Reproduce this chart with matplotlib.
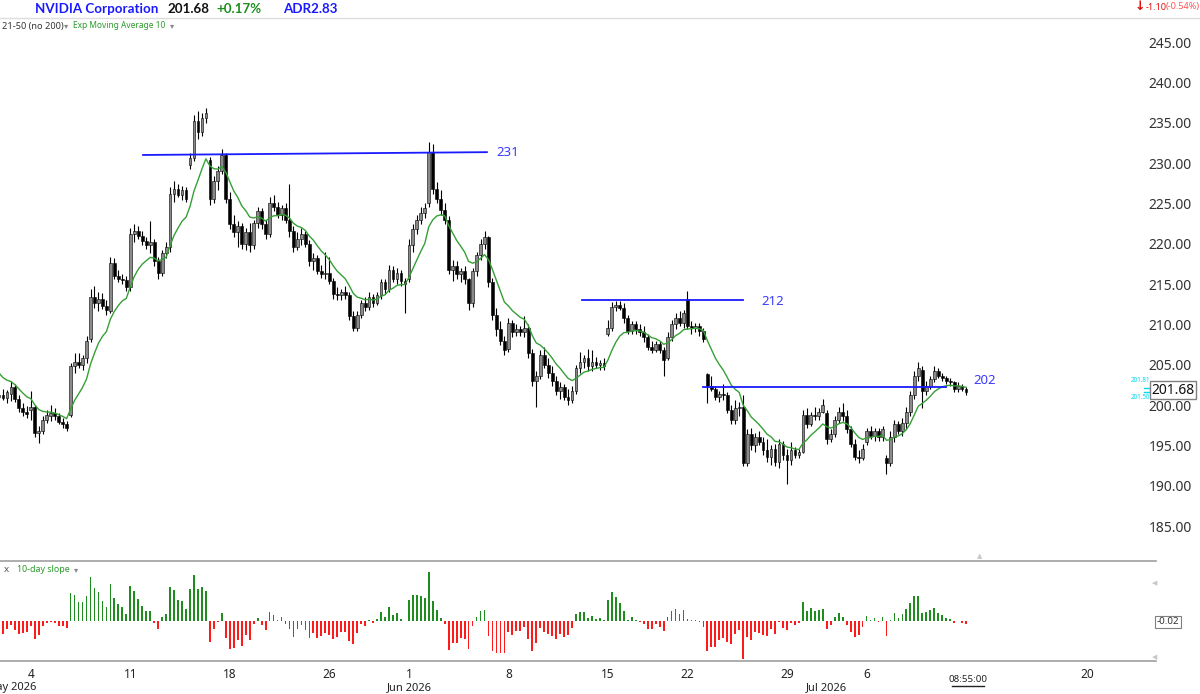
import numpy as np
import matplotlib
matplotlib.use("Agg")
import matplotlib.pyplot as plt
from matplotlib.lines import Line2D

plt.rcParams['font.family'] = ['Noto Sans', 'DejaVu Sans']

# 5 bars per trading day, Apr 30 .. Jul 13 2026 (one row per day)
opens = [
    202.0, 201.6, 201.0, 201.3, 200.9,
    201.4, 202.2, 200.8, 199.6, 199.2,
    199.4, 199.8, 196.6, 196.8, 198.2,
    198.6, 199.0, 198.6, 197.9, 197.6,
    198.8, 204.8, 205.4, 205.0, 205.8,
    208.2, 213.4, 212.6, 213.2, 212.3,
    211.6, 217.6, 216.0, 215.6, 215.5,
    214.6, 221.2, 221.6, 220.9, 220.3,
    219.8, 220.2, 217.8, 216.4, 218.8,
    219.6, 226.2, 226.8, 226.0, 226.6,
    229.8, 230.6, 235.2, 233.8, 235.6,
    230.4, 225.6, 227.8, 229.0, 231.0,
    225.6, 222.4, 221.4, 222.2, 220.0,
    221.4, 219.8, 222.6, 224.0, 222.4,
    221.2, 225.0, 224.6, 223.6, 224.4,
    223.0, 221.6, 219.6, 220.6, 221.2,
    220.0, 217.8, 218.2, 216.6, 216.2,
    216.4, 215.4, 213.8, 213.6, 214.0,
    213.6, 211.0, 209.6, 211.2, 212.6,
    212.2, 213.4, 212.6, 213.6, 215.2,
    214.4, 216.8, 215.6, 216.4, 215.4,
    215.6, 219.8, 221.8, 223.0, 223.8,
    225.0, 231.4, 226.8, 225.6, 224.2,
    223.0, 216.8, 217.2, 216.2, 216.6,
    215.6, 212.6, 216.6, 218.6, 220.0,
    220.8, 215.2, 211.2, 209.4, 208.0,
    207.0, 210.2, 209.0, 209.4, 209.0,
    209.6, 206.4, 203.0, 203.6, 206.2,
    205.0, 204.0, 203.0, 201.8, 202.2,
    201.0, 200.6, 201.8, 204.6, 205.4,
    205.8, 204.8, 205.4, 205.0, 205.2,
    208.8, 209.6, 212.2, 212.4, 212.0,
    210.8, 209.2, 210.0, 209.4, 209.0,
    208.4, 207.2, 206.8, 207.6, 206.8,
    205.8, 208.4, 210.0, 210.8, 210.2,
    213.2, 209.8, 209.6, 209.8, 209.2,
    203.8, 202.4, 202.0, 201.0, 201.4,
    201.2, 199.4, 198.2, 199.6, 199.8,
    192.8, 196.4, 195.0, 196.0, 195.4,
    194.4, 193.6, 194.6, 193.0, 195.2,
    193.8, 193.2, 194.4, 193.8, 194.2,
    198.8, 197.6, 198.8, 198.6, 199.2,
    199.0, 195.8, 196.4, 198.2, 199.2,
    198.6, 197.0, 195.2, 193.6, 193.4,
    195.4, 196.8, 196.2, 196.8, 196.0,
    193.4, 192.8, 196.0, 197.6, 196.8,
    197.8, 199.2, 201.2, 203.6, 204.4,
    201.8, 202.4, 203.2, 204.2, 203.6,
    203.4, 203.0, 202.8, 202.0, 202.4,
    202.0,
]
highs = [
    202.6, 202.2, 201.8, 202.0, 201.9,
    203.0, 202.6, 201.2, 200.3, 199.9,
    201.8, 200.0, 197.4, 198.6, 199.4,
    200.0, 199.6, 199.0, 198.4, 198.0,
    205.2, 206.4, 206.5, 206.2, 208.6,
    214.4, 214.8, 214.0, 213.9, 213.0,
    218.4, 218.2, 216.8, 216.2, 216.0,
    222.0, 222.4, 222.2, 221.6, 220.8,
    222.8, 220.6, 218.4, 219.2, 220.2,
    227.0, 227.8, 227.4, 227.2, 227.0,
    231.2, 236.0, 236.4, 236.2, 236.8,
    230.8, 228.4, 229.6, 231.8, 231.2,
    226.4, 223.6, 222.8, 222.6, 222.0,
    222.6, 223.0, 224.6, 224.4, 223.0,
    225.8, 226.0, 225.2, 224.8, 225.0,
    227.4, 222.2, 221.4, 222.0, 221.6,
    220.4, 218.8, 218.6, 217.4, 219.0,
    218.4, 215.8, 214.6, 214.4, 214.8,
    214.0, 211.6, 211.6, 213.0, 213.4,
    214.0, 213.8, 214.0, 215.6, 215.6,
    217.4, 217.2, 217.0, 216.8, 215.8,
    220.6, 222.4, 223.6, 224.6, 225.0,
    232.6, 232.4, 227.6, 226.6, 225.0,
    223.4, 218.0, 217.8, 217.0, 217.2,
    215.8, 217.0, 219.0, 220.6, 221.6,
    221.0, 215.8, 212.0, 210.4, 208.6,
    210.8, 210.6, 210.0, 209.8, 211.0,
    210.0, 207.0, 204.2, 206.8, 207.2,
    205.8, 204.8, 203.6, 202.8, 202.6,
    202.0, 202.4, 205.0, 206.6, 206.2,
    207.0, 206.8, 206.0, 205.6, 205.8,
    210.6, 212.8, 212.9, 212.9, 212.6,
    211.2, 210.4, 210.4, 210.0, 209.8,
    208.8, 208.0, 208.0, 208.0, 207.2,
    209.0, 210.6, 211.4, 211.6, 211.8,
    214.2, 210.4, 210.2, 210.2, 209.6,
    204.0, 203.6, 202.4, 201.8, 202.6,
    201.6, 200.0, 200.6, 200.4, 201.2,
    197.0, 197.2, 196.6, 196.8, 196.0,
    195.8, 195.0, 195.2, 195.8, 195.6,
    194.6, 195.4, 194.8, 194.6, 199.4,
    199.6, 199.2, 199.8, 199.6, 200.8,
    199.4, 197.0, 198.6, 199.8, 200.2,
    199.4, 197.4, 195.8, 194.4, 195.2,
    197.2, 197.4, 197.2, 197.2, 197.4,
    193.8, 196.8, 198.2, 198.0, 198.4,
    199.8, 201.8, 204.2, 205.4, 204.8,
    203.0, 203.6, 204.8, 204.6, 204.0,
    203.6, 203.4, 203.0, 202.8, 202.6,
    202.2,
]
lows = [
    201.2, 200.8, 200.3, 200.6, 200.2,
    200.5, 200.4, 199.2, 198.6, 198.4,
    198.2, 196.0, 195.3, 196.4, 197.8,
    198.0, 198.2, 197.6, 197.2, 196.8,
    198.5, 204.0, 204.6, 204.4, 205.2,
    207.8, 212.0, 211.6, 211.9, 211.2,
    211.4, 215.6, 215.2, 215.0, 214.2,
    214.2, 220.2, 220.6, 219.8, 219.4,
    218.8, 217.2, 215.6, 216.0, 218.2,
    219.0, 225.2, 225.8, 225.4, 225.2,
    229.2, 230.2, 233.0, 233.4, 235.0,
    224.8, 225.0, 226.6, 228.6, 225.0,
    221.8, 220.8, 219.6, 219.4, 219.2,
    219.0, 219.4, 222.0, 221.8, 220.6,
    220.8, 224.0, 223.2, 223.0, 222.6,
    220.8, 219.0, 219.2, 219.8, 219.6,
    217.2, 216.8, 216.2, 215.8, 215.6,
    215.0, 213.2, 213.0, 213.0, 213.2,
    210.6, 209.2, 209.2, 210.8, 211.6,
    211.8, 212.2, 212.4, 213.2, 213.8,
    214.0, 215.2, 215.0, 214.8, 211.4,
    215.2, 219.0, 221.2, 222.4, 223.2,
    224.6, 226.2, 225.0, 223.6, 222.4,
    216.2, 215.4, 215.6, 215.2, 215.0,
    211.8, 212.2, 216.0, 218.0, 219.4,
    214.6, 210.6, 208.6, 207.4, 206.2,
    206.6, 208.4, 208.6, 208.6, 208.4,
    205.8, 202.4, 199.8, 203.2, 204.6,
    203.4, 202.4, 201.2, 200.8, 200.6,
    200.0, 200.2, 201.4, 204.0, 204.6,
    204.2, 204.2, 204.6, 204.4, 204.4,
    208.6, 209.2, 211.6, 211.8, 210.2,
    208.8, 208.8, 208.8, 208.6, 207.8,
    206.8, 206.4, 206.6, 206.4, 203.6,
    205.6, 208.0, 209.4, 209.8, 209.6,
    209.4, 208.8, 209.0, 208.6, 207.8,
    200.2, 201.8, 200.6, 200.4, 200.6,
    199.0, 197.6, 197.6, 198.6, 192.4,
    192.4, 194.4, 194.2, 195.0, 193.8,
    193.0, 192.6, 192.4, 192.2, 193.2,
    190.2, 192.6, 193.4, 193.4, 194.0,
    197.2, 197.4, 198.2, 198.2, 199.0,
    195.2, 195.4, 196.0, 197.8, 198.0,
    196.6, 194.8, 193.2, 192.8, 193.2,
    195.0, 195.8, 195.6, 195.6, 195.6,
    191.4, 192.4, 195.4, 196.4, 196.2,
    197.0, 198.6, 200.8, 203.0, 199.6,
    201.2, 202.0, 202.8, 203.4, 203.0,
    202.6, 202.4, 201.6, 201.6, 201.8,
    201.2,
]
closes = [
    201.6, 201.0, 201.3, 200.9, 201.6,
    202.2, 200.8, 199.6, 199.2, 198.9,
    199.8, 196.6, 196.8, 198.2, 198.8,
    199.0, 198.6, 197.9, 197.6, 197.1,
    204.8, 205.4, 205.0, 205.8, 207.9,
    213.4, 212.6, 213.2, 212.3, 211.8,
    217.6, 216.0, 215.6, 215.5, 214.6,
    221.2, 221.6, 220.9, 220.3, 219.8,
    220.2, 217.8, 216.4, 218.8, 219.6,
    226.2, 226.8, 226.0, 226.6, 225.5,
    230.6, 235.2, 233.8, 235.6, 236.2,
    225.6, 227.8, 229.0, 231.0, 225.6,
    222.4, 221.4, 222.2, 220.0, 221.4,
    219.8, 222.6, 224.0, 222.4, 221.2,
    225.0, 224.6, 223.6, 224.4, 223.0,
    221.6, 219.6, 220.6, 221.2, 220.0,
    217.8, 218.2, 216.6, 216.2, 216.4,
    215.4, 213.8, 213.6, 214.0, 213.6,
    211.0, 209.6, 211.2, 212.6, 212.2,
    213.4, 212.6, 213.6, 215.2, 214.4,
    216.8, 215.6, 216.4, 215.4, 215.0,
    219.8, 221.8, 223.0, 223.8, 224.4,
    231.4, 226.8, 225.6, 224.2, 223.0,
    216.8, 217.2, 216.2, 216.6, 215.6,
    212.6, 216.6, 218.6, 220.0, 220.8,
    215.2, 211.2, 209.4, 208.0, 206.8,
    210.2, 209.0, 209.4, 209.0, 209.6,
    206.4, 203.0, 203.6, 206.2, 205.0,
    204.0, 203.0, 201.8, 202.2, 201.0,
    200.6, 201.8, 204.6, 205.4, 205.8,
    204.8, 205.4, 205.0, 205.2, 204.8,
    209.6, 212.2, 212.4, 212.0, 210.8,
    209.2, 210.0, 209.4, 209.0, 208.4,
    207.2, 206.8, 207.6, 206.8, 205.6,
    208.4, 210.0, 210.8, 210.2, 211.4,
    209.8, 209.6, 209.8, 209.2, 208.2,
    202.4, 202.0, 201.0, 201.4, 201.2,
    199.4, 198.2, 199.6, 199.8, 192.8,
    196.4, 195.0, 196.0, 195.4, 194.4,
    193.6, 194.6, 193.0, 195.2, 193.8,
    193.2, 194.4, 193.8, 194.2, 198.8,
    197.6, 198.8, 198.6, 199.2, 200.0,
    195.8, 196.4, 198.2, 199.2, 198.6,
    197.0, 195.2, 193.6, 193.4, 194.6,
    196.8, 196.2, 196.8, 196.0, 197.0,
    192.8, 196.0, 197.6, 196.8, 197.8,
    199.2, 201.2, 203.6, 204.6, 201.8,
    202.4, 203.2, 204.2, 203.6, 203.4,
    203.0, 202.8, 202.0, 202.4, 202.0,
    201.68,
]
ema_start = 206.2   # EMA value carried in from before the window
ema_span = 10

# x axis: trading-day index (Apr 30 = 0)
tick_days = [2, 7, 12, 17, 21, 26, 31, 35, 40, 44, 55.1]
tick_labels = ['4', '11', '18', '26', '1', '8', '15', '22', '29', '6', '20']
month_days = [1, 21, 42]
month_labels = ['May 2026', 'Jun 2026', 'Jul 2026']

# drawn levels: (x0, x1, y0, y1, label, label_x, label_y)
levels = [
    (7.64, 24.92, 231.0, 231.35, '231', 25.98, 231.3),
    (29.70, 37.79, 213.0, 213.0, '212', 39.30, 212.9),
    (35.78, 47.99, 202.3, 202.3, '202', 49.95, 203.1),
]

o = np.array(opens); h = np.array(highs); l = np.array(lows); c = np.array(closes)
n = len(c)
pos = np.arange(n) / 5.0

alpha = 2.0 / (ema_span + 1)
ema = np.empty(n)
prev = ema_start
for i in range(n):
    prev = prev + alpha * (c[i] - prev)
    ema[i] = prev
slope = np.diff(np.concatenate([[ema_start], ema]))

W, H = 1200, 694
fig = plt.figure(figsize=(12, 6.94), dpi=100)
fig.patch.set_facecolor('white')

XL = (0.452, 57.74)

# price panel
ax = fig.add_axes([0, 1 - 560 / H, 0.95, 525 / H])
ax.set_xlim(*XL)
ax.set_ylim(180.8, 245.87)
ax.vlines(pos, l, h, color='black', lw=0.8, zorder=2)
up = c >= o
body = np.where(np.abs(c - o) < 0.08, 0.08, c - o)
ax.bar(pos[up], body[up], bottom=o[up], width=0.14, color='#8a8a8a',
       edgecolor='black', linewidth=0.4, zorder=3)
ax.bar(pos[~up], body[~up], bottom=o[~up], width=0.14, color='black',
       edgecolor='black', linewidth=0.4, zorder=3)
ax.plot(pos, ema, color='#35a035', lw=1.0, zorder=4)
for x0, x1, y0, y1, lab, lx, ly in levels:
    ax.plot([x0, x1], [y0, y1], color='#1a1aff', lw=1.3, zorder=5)
    ax.text(lx, ly, lab, color='#3a3aff', fontsize=9.5, ha='center', va='center')

ax.yaxis.tick_right()
ax.set_yticks(np.arange(185, 246, 5))
ax.set_yticklabels([f'{v:.2f}' for v in np.arange(185, 246, 5)])
ax.tick_params(axis='y', length=0, pad=6, labelsize=10, labelcolor='#333333')
ax.set_xticks([])
for s in ax.spines.values():
    s.set_visible(False)

# slope panel
ax2 = fig.add_axes([0, 1 - 661 / H, 0.95, 99 / H])
ax2.set_xlim(*XL)
ax2.set_ylim(-1.67, 2.47)
ax2.bar(pos, slope, width=0.09, color=np.where(slope >= 0, '#1f8c1f', '#ff1a1a'))
ax2.set_yticks([])
ax2.set_xticks(tick_days)
ax2.set_xticklabels(tick_labels)
ax2.tick_params(axis='x', length=0, pad=5, labelsize=8.5, labelcolor='#222222')
for s in ax2.spines.values():
    s.set_visible(False)
for d, lab in zip(month_days, month_labels):
    ax2.text(d, -0.27, lab, transform=ax2.get_xaxis_transform(), ha='center',
             va='center', fontsize=8, color='#222222', clip_on=False)

# separators
for yy in (561, 661):
    fig.add_artist(Line2D([0, 1156 / W], [1 - yy / H] * 2, color='#a0a0a0', lw=1.2))
fig.add_artist(Line2D([0, 1], [1 - 18 / H] * 2, color='#dddddd', lw=1))

# header
def ftext(x, y, s, **kw):
    fig.text(x / W, 1 - y / H, s, va='center', **kw)

hdr = dict(family=['Lato', 'DejaVu Sans'], fontsize=9.6, weight='bold')
ftext(35, 9, 'NVIDIA Corporation', color='#1a1aff', **hdr)
ftext(168, 9, '201.68', color='#111111', **hdr)
ftext(216, 9, '+0.17%', color='#1f8c1f', **hdr)
ftext(283, 9, 'ADR2.83', color='#1a1aff', **hdr)
ftext(1135, 7, '↓', color='#e01010', fontsize=9, weight='bold', family='DejaVu Sans')
ftext(1146, 7, '-1.10', color='#e01010', fontsize=6.5)
ftext(1166, 7, '(-0.54%)', color='#ff5050', fontsize=6.5)
ftext(2, 26, '21-50 (no 200)', color='#333333', fontsize=6.6)
ftext(64, 26, '▾', color='#888888', fontsize=6, family='DejaVu Sans')
ftext(73, 26, 'Exp Moving Average 10', color='#2a9a2a', fontsize=6.0)
ftext(170, 26, '▾', color='#888888', fontsize=6, family='DejaVu Sans')
ftext(4, 570, 'x', color='#555555', fontsize=7)
ftext(17, 570, '10-day slope', color='#2a9a2a', fontsize=6.4)
ftext(74, 570, '▾', color='#888888', fontsize=6, family='DejaVu Sans')

# right side price tags
ftext(1173, 390, '201.68', color='#111111', fontsize=10, ha='center',
      bbox=dict(boxstyle='square,pad=0.12', fc='white', ec='#808080', lw=1))
ftext(1140, 381, '201.81', color='#00d8f0', fontsize=4.5, ha='center')
ftext(1140, 398, '201.50', color='#00d8f0', fontsize=4.5, ha='center')
for yy in (388, 392):
    fig.add_artist(Line2D([1144 / W, 1149 / W], [1 - yy / H] * 2, color='#00d8f0', lw=1))
ftext(1168, 622, '-0.02', color='#333333', fontsize=7, ha='center',
      bbox=dict(boxstyle='square,pad=0.15', fc='white', ec='#808080', lw=0.8))
ftext(968, 679, '08:55:00', color='#222222', fontsize=7, ha='center')
fig.add_artist(Line2D([952 / W, 984 / W], [1 - 686 / H] * 2, color='#222222', lw=1))
ftext(980, 556, '▲', color='#c8c8c8', fontsize=5, ha='center', family='DejaVu Sans')
ftext(1155, 583, '◀', color='#c8c8c8', fontsize=5, ha='center', family='DejaVu Sans')
ftext(1155, 657, '◀', color='#c8c8c8', fontsize=5, ha='center', family='DejaVu Sans')

fig.savefig('out.png', dpi=100, facecolor='white')
